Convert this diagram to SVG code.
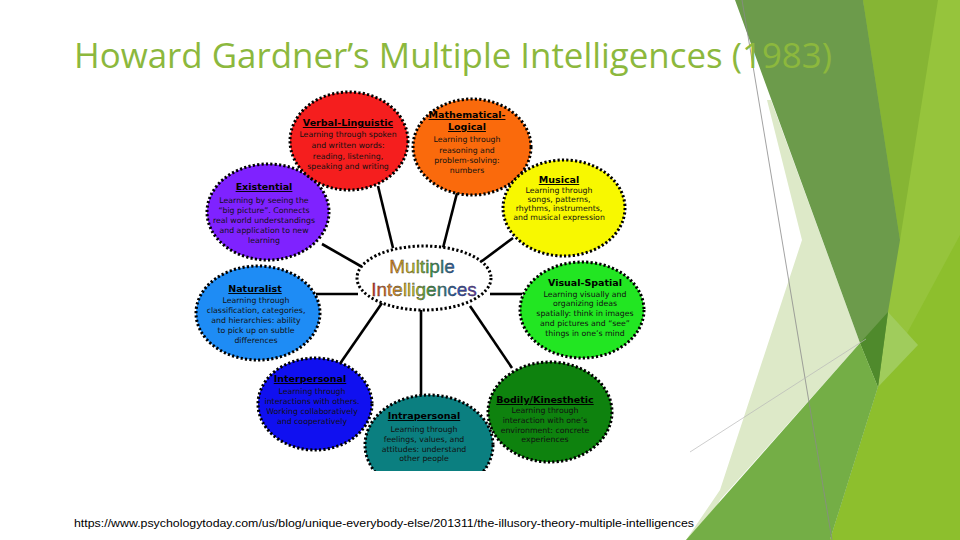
<svg xmlns="http://www.w3.org/2000/svg" width="960" height="540" viewBox="0 0 960 540">
<defs>
<style>
.bub{stroke:#000;stroke-width:3;stroke-dasharray:2.2 2.2}
.ttl{font-family:"DejaVu Sans",Verdana,sans-serif;font-weight:bold;font-size:9.5px;fill:#000;text-anchor:middle;text-decoration:underline}
.bdy{font-family:"DejaVu Sans",Verdana,sans-serif;font-size:7.8px;fill:#111;text-anchor:middle}
.spoke{stroke:#000;stroke-width:2.6;fill:none}
</style>
<linearGradient id="rb" gradientUnits="userSpaceOnUse" x1="370" y1="0" x2="480" y2="0">
<stop offset="0" stop-color="#c4282a"/>
<stop offset="0.2" stop-color="#e0861e"/>
<stop offset="0.38" stop-color="#c9bd22"/>
<stop offset="0.55" stop-color="#3d9e3f"/>
<stop offset="0.78" stop-color="#2458c0"/>
<stop offset="1" stop-color="#6a2a9a"/>
</linearGradient>
<clipPath id="clipI"><rect x="300" y="380" width="260" height="91"/></clipPath>
</defs>
<rect width="960" height="540" fill="#fff"/>
<g id="background">
<polygon points="863,0 960,0 960,540 830,540 878,387" fill="#96c43c"/>
<polygon points="863,0 938,0 900,240" fill="#86b534"/>
<polygon points="830,540 878,387 960,235 960,540" fill="#8dbf2d"/>
<polygon points="878,387 888,312 918,345" fill="#a0cc5c"/>
<polygon points="767,100 771,100 860,343 720,500 700,540 686,540 720,490 802,240" fill="#dde9c8"/>
<polygon points="735,0 863,0 900,240 888,312 878,387 860,343" fill="#6c9b4b"/>
<polygon points="860,343 888,312 878,387" fill="#4f8a2c"/>
<polygon points="686,540 860,343 878,387 830,540" fill="#74ae46"/>
<line x1="742" y1="0" x2="832" y2="540" stroke="#8a8a8a" stroke-width="0.8"/>
<line x1="690" y1="452" x2="866" y2="339" stroke="#b8b8b8" stroke-width="0.7"/>
</g>
<text x="74" y="68" font-family="'Open Sans','Noto Sans',sans-serif" font-size="35" fill="#8cb83d" textLength="758" lengthAdjust="spacingAndGlyphs">Howard Gardner’s Multiple Intelligences (1983)</text>
<g id="connectors">
<line class="spoke" x1="378" y1="186" x2="393" y2="248"/>
<line class="spoke" x1="457" y1="193" x2="443" y2="248"/>
<line class="spoke" x1="322" y1="244" x2="364" y2="268"/>
<line class="spoke" x1="513" y1="238" x2="478" y2="264"/>
<line class="spoke" x1="316" y1="294" x2="358" y2="294"/>
<line class="spoke" x1="490" y1="294" x2="522" y2="294"/>
<line class="spoke" x1="337" y1="368" x2="382" y2="303"/>
<line class="spoke" x1="421" y1="310" x2="421" y2="396"/>
<line class="spoke" x1="470" y1="306" x2="512" y2="368"/>
</g>
<g id="existential">
<ellipse class="bub" cx="268" cy="212" rx="61" ry="48" fill="#7f22ff"/>
<text class="ttl" x="264" y="190">Existential</text>
<text class="bdy" x="264" y="203">Learning by seeing the</text>
<text class="bdy" x="264" y="213">“big picture”.  Connects</text>
<text class="bdy" x="264" y="223">real world understandings</text>
<text class="bdy" x="264" y="233">and application to new</text>
<text class="bdy" x="264" y="243">learning</text>
</g>
<g id="naturalist">
<ellipse class="bub" cx="258" cy="313" rx="62" ry="47" fill="#1e8cf5"/>
<text class="ttl" x="255" y="292">Naturalist</text>
<text class="bdy" x="256" y="303">Learning through</text>
<text class="bdy" x="256" y="313">classification, categories,</text>
<text class="bdy" x="256" y="323">and hierarchies:  ability</text>
<text class="bdy" x="256" y="333">to pick up on subtle</text>
<text class="bdy" x="256" y="343">differences</text>
</g>
<g id="verbal">
<ellipse class="bub" cx="349" cy="141" rx="59" ry="49" fill="#f51e1e"/>
<text class="ttl" x="348" y="126">Verbal-Linguistic</text>
<text class="bdy" x="348" y="137">Learning through spoken</text>
<text class="bdy" x="348" y="148">and written words:</text>
<text class="bdy" x="348" y="159">reading, listening,</text>
<text class="bdy" x="348" y="169">speaking and writing</text>
</g>
<g id="mathematical">
<ellipse class="bub" cx="472" cy="147" rx="59" ry="48" fill="#fa6a0c"/>
<text class="ttl" x="467" y="118">Mathematical-</text>
<text class="ttl" x="467" y="130">Logical</text>
<text class="bdy" x="467" y="142">Learning through</text>
<text class="bdy" x="467" y="153">reasoning and</text>
<text class="bdy" x="467" y="163">problem-solving:</text>
<text class="bdy" x="467" y="173">numbers</text>
</g>
<g id="musical">
<ellipse class="bub" cx="564" cy="208" rx="61" ry="48" fill="#f8f800"/>
<text class="ttl" x="559" y="183">Musical</text>
<text class="bdy" x="559" y="193">Learning through</text>
<text class="bdy" x="559" y="202">songs, patterns,</text>
<text class="bdy" x="559" y="211">rhythms, instruments,</text>
<text class="bdy" x="559" y="220">and musical expression</text>
</g>
<g id="visual">
<ellipse class="bub" cx="582" cy="310" rx="62" ry="48" fill="#22e622"/>
<text class="ttl" x="585" y="286" style="text-decoration:none">Visual-Spatial</text>
<text class="bdy" x="585" y="297">Learning visually and</text>
<text class="bdy" x="585" y="306">organizing ideas</text>
<text class="bdy" x="585" y="316">spatially: think in images</text>
<text class="bdy" x="585" y="326">and pictures and “see”</text>
<text class="bdy" x="585" y="336">things in one’s mind</text>
</g>
<g id="interpersonal">
<ellipse class="bub" cx="315" cy="404" rx="57" ry="46" fill="#1010f0"/>
<text class="ttl" x="310" y="382">Interpersonal</text>
<text class="bdy" x="312" y="394">Learning through</text>
<text class="bdy" x="312" y="404">interactions with others.</text>
<text class="bdy" x="312" y="414">Working collaboratively</text>
<text class="bdy" x="312" y="424">and cooperatively</text>
</g>
<g id="bodily">
<ellipse class="bub" cx="550" cy="412" rx="62" ry="50" fill="#0e820e"/>
<text class="ttl" x="545" y="403">Bodily/Kinesthetic</text>
<text class="bdy" x="545" y="413">Learning through</text>
<text class="bdy" x="545" y="423">interaction with one’s</text>
<text class="bdy" x="545" y="433">environment: concrete</text>
<text class="bdy" x="545" y="442">experiences</text>
</g>
<g id="intrapersonal">
<ellipse class="bub" cx="429" cy="445" rx="64" ry="50" fill="#0b7f80" clip-path="url(#clipI)"/>
<text class="ttl" x="424" y="419">Intrapersonal</text>
<text class="bdy" x="424" y="432">Learning through</text>
<text class="bdy" x="424" y="442">feelings, values, and</text>
<text class="bdy" x="424" y="452">attitudes:  understand</text>
<text class="bdy" x="424" y="461">other people</text>
</g>
<g id="center">
<ellipse class="bub" cx="424" cy="278" rx="67" ry="32" fill="#fff"/>
<text x="422" y="273" font-family="'Liberation Sans',Arial,sans-serif" font-size="19" text-anchor="middle" fill="url(#rb)" stroke="#333" stroke-width="0.35">Multiple</text>
<text x="424" y="296" font-family="'Liberation Sans',Arial,sans-serif" font-size="19" text-anchor="middle" fill="url(#rb)" stroke="#333" stroke-width="0.35">Intelligences</text>
</g>
<text x="74" y="527" font-family="'Liberation Sans',Arial,sans-serif" font-size="11" fill="#000" textLength="620" lengthAdjust="spacingAndGlyphs">https://www.psychologytoday.com/us/blog/unique-everybody-else/201311/the-illusory-theory-multiple-intelligences</text>
</svg>
